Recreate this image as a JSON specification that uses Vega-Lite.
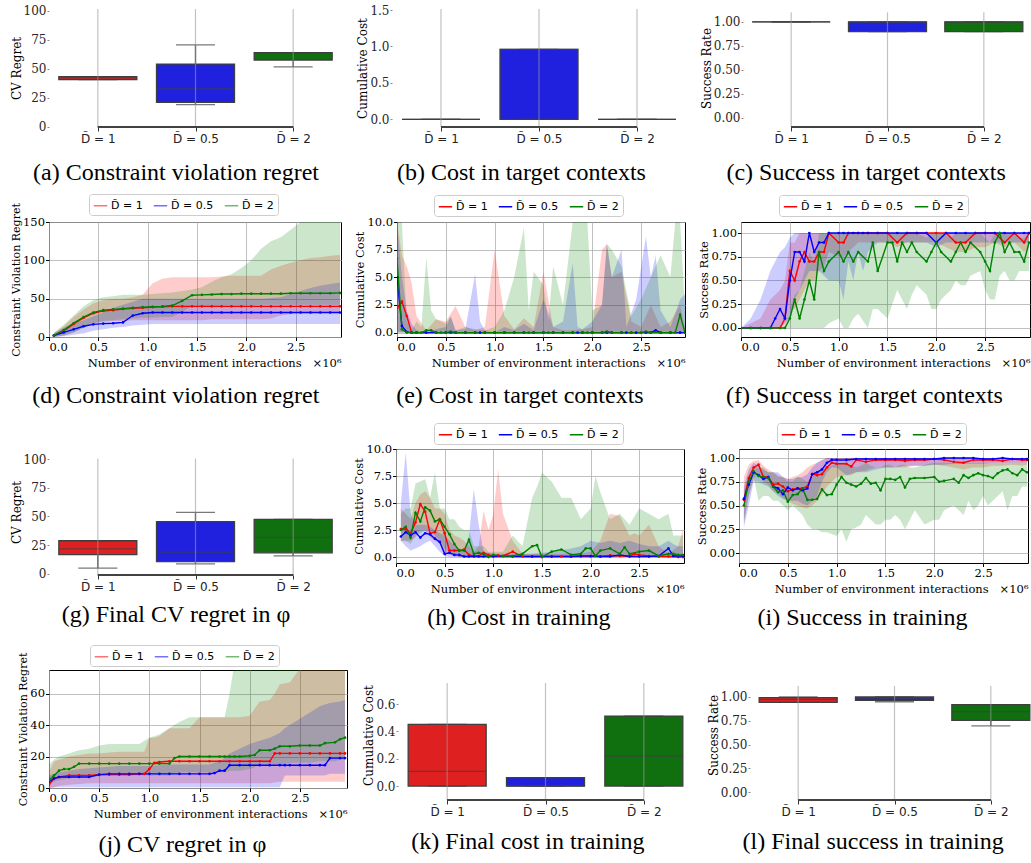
{
"$schema": "https://vega.github.io/schema/vega-lite/v6.json",
"padding": {"left": 10, "top": 4, "right": 0, "bottom": 0},
"config": {
 "view": {"stroke": null},
 "title": {"font": "Liberation Serif", "fontSize": 24, "fontWeight": "normal", "color": "#000", "frame": "bounds"},
 "axis": {"labelFont": "DejaVu Serif", "labelFontSize": 11.5, "labelColor": "#000", "titleFont": "DejaVu Serif", "titleFontSize": 11.5, "titleFontWeight": "normal", "titleColor": "#000", "tickColor": "#000", "tickSize": 3.5, "gridColor": "#b0b0b0", "gridWidth": 0.8, "domain": false, "labelPadding": 1, "titlePadding": 1, "labelOverlap": false},
 "legend": {"labelFont": "DejaVu Sans", "labelFontSize": 11, "labelColor": "#000", "symbolType": "stroke", "symbolSize": 180, "symbolStrokeWidth": 1.5, "strokeColor": "#cccccc", "cornerRadius": 3, "padding": 4, "columnPadding": 7, "fillColor": "#ffffff", "labelOffset": 3}
},
"datasets": {
 "a": [{"g":"1","q1":40.6,"q3":43.2,"med":42,"lo":40.6,"hi":43.2},{"g":"0.5","q1":21,"q3":54,"med":32.5,"lo":19,"hi":70.5},{"g":"2","q1":57.5,"q3":63.8,"med":63.8,"lo":51.5,"hi":63.8}],
 "b": [{"g":"1","q1":0,"q3":0,"med":0,"lo":0,"hi":0},{"g":"0.5","q1":0,"q3":0.96,"med":0.96,"lo":0,"hi":0.96},{"g":"2","q1":0,"q3":0,"med":0,"lo":0,"hi":0}],
 "c": [{"g":"1","q1":1,"q3":1,"med":1,"lo":1,"hi":1},{"g":"0.5","q1":0.9,"q3":1,"med":1,"lo":0.9,"hi":1},{"g":"2","q1":0.9,"q3":1,"med":1,"lo":0.9,"hi":1}],
 "g": [{"g":"1","q1":16.9,"q3":28.9,"med":21.9,"lo":5,"hi":28.9},{"g":"0.5","q1":10.8,"q3":45.5,"med":19,"lo":8.7,"hi":53.6},{"g":"2","q1":18.4,"q3":47.5,"med":31.8,"lo":15.7,"hi":47.5}],
 "k": [{"g":"1","q1":0,"q3":0.451,"med":0.108,"lo":0,"hi":0.451},{"g":"0.5","q1":0,"q3":0.061,"med":0,"lo":0,"hi":0.061},{"g":"2","q1":0,"q3":0.512,"med":0.22,"lo":0,"hi":0.512}],
 "l": [{"g":"1","q1":0.944,"q3":0.993,"med":0.975,"lo":0.944,"hi":1.0},{"g":"0.5","q1":0.965,"q3":1.0,"med":0.985,"lo":0.95,"hi":1.0},{"g":"2","q1":0.754,"q3":0.92,"med":0.846,"lo":0.695,"hi":0.92}],
 "d": [
{"s":"1","x":0.05,"m":2,"l":0,"h":5},{"s":"1","x":0.15,"m":8,"l":2,"h":14},{"s":"1","x":0.25,"m":17,"l":6,"h":26},{"s":"1","x":0.35,"m":25,"l":12,"h":36},{"s":"1","x":0.45,"m":31,"l":18,"h":44},{"s":"1","x":0.55,"m":34,"l":20,"h":48},{"s":"1","x":0.65,"m":35,"l":21,"h":50},{"s":"1","x":0.75,"m":36.5,"l":21,"h":50},{"s":"1","x":0.85,"m":37.5,"l":22,"h":52},{"s":"1","x":0.95,"m":38,"l":22,"h":55},{"s":"1","x":1.05,"m":39,"l":22,"h":70},{"s":"1","x":1.15,"m":39.5,"l":22,"h":76},{"s":"1","x":1.25,"m":40,"l":22,"h":78},{"s":"1","x":1.35,"m":40,"l":22,"h":78},{"s":"1","x":1.45,"m":40,"l":22,"h":78},{"s":"1","x":1.55,"m":40,"l":22,"h":78},{"s":"1","x":1.65,"m":40,"l":23,"h":78},{"s":"1","x":1.75,"m":40,"l":23,"h":79},{"s":"1","x":1.85,"m":40,"l":23,"h":80},{"s":"1","x":1.95,"m":40,"l":23,"h":80},{"s":"1","x":2.05,"m":40,"l":23,"h":80},{"s":"1","x":2.15,"m":40,"l":23,"h":80},{"s":"1","x":2.25,"m":40,"l":24,"h":88},{"s":"1","x":2.35,"m":40,"l":28,"h":93},{"s":"1","x":2.45,"m":40,"l":30,"h":97},{"s":"1","x":2.55,"m":40,"l":31,"h":100},{"s":"1","x":2.65,"m":40,"l":31,"h":103},{"s":"1","x":2.75,"m":40,"l":32,"h":104},{"s":"1","x":2.85,"m":40,"l":32,"h":106},{"s":"1","x":2.95,"m":40,"l":32,"h":107},
{"s":"0.5","x":0.05,"m":2,"l":0,"h":5},{"s":"0.5","x":0.15,"m":6,"l":1,"h":12},{"s":"0.5","x":0.25,"m":10,"l":3,"h":18},{"s":"0.5","x":0.35,"m":14,"l":5,"h":22},{"s":"0.5","x":0.45,"m":16.5,"l":8,"h":27},{"s":"0.5","x":0.55,"m":17.5,"l":10,"h":32},{"s":"0.5","x":0.65,"m":18,"l":12,"h":38},{"s":"0.5","x":0.75,"m":19,"l":13,"h":42},{"s":"0.5","x":0.85,"m":28,"l":15,"h":46},{"s":"0.5","x":0.95,"m":31,"l":16,"h":50},{"s":"0.5","x":1.05,"m":32,"l":17,"h":50},{"s":"0.5","x":1.15,"m":32,"l":17,"h":50},{"s":"0.5","x":1.25,"m":32,"l":17,"h":50},{"s":"0.5","x":1.35,"m":32,"l":17,"h":50},{"s":"0.5","x":1.45,"m":32,"l":17,"h":50},{"s":"0.5","x":1.55,"m":32,"l":17,"h":50},{"s":"0.5","x":1.65,"m":32,"l":17,"h":50},{"s":"0.5","x":1.75,"m":32,"l":17,"h":50},{"s":"0.5","x":1.85,"m":32,"l":17,"h":50},{"s":"0.5","x":1.95,"m":32,"l":17,"h":50},{"s":"0.5","x":2.05,"m":32,"l":17,"h":50},{"s":"0.5","x":2.15,"m":32,"l":17,"h":50},{"s":"0.5","x":2.25,"m":32,"l":17,"h":51},{"s":"0.5","x":2.35,"m":32,"l":17,"h":52},{"s":"0.5","x":2.45,"m":32,"l":17,"h":56},{"s":"0.5","x":2.55,"m":32,"l":17,"h":60},{"s":"0.5","x":2.65,"m":32,"l":17,"h":64},{"s":"0.5","x":2.75,"m":32,"l":17,"h":67},{"s":"0.5","x":2.85,"m":32,"l":17,"h":69},{"s":"0.5","x":2.95,"m":32,"l":17,"h":71},
{"s":"2","x":0.05,"m":2,"l":0,"h":6},{"s":"2","x":0.15,"m":9,"l":2,"h":16},{"s":"2","x":0.25,"m":18,"l":6,"h":28},{"s":"2","x":0.35,"m":26,"l":12,"h":40},{"s":"2","x":0.45,"m":32,"l":18,"h":48},{"s":"2","x":0.55,"m":35,"l":21,"h":52},{"s":"2","x":0.65,"m":36,"l":22,"h":53},{"s":"2","x":0.75,"m":37,"l":23,"h":55},{"s":"2","x":0.85,"m":38,"l":24,"h":55},{"s":"2","x":0.95,"m":39,"l":25,"h":55},{"s":"2","x":1.05,"m":39.5,"l":25,"h":56},{"s":"2","x":1.15,"m":40,"l":26,"h":57},{"s":"2","x":1.25,"m":41,"l":26,"h":58},{"s":"2","x":1.35,"m":47,"l":33,"h":60},{"s":"2","x":1.45,"m":54.5,"l":40,"h":62},{"s":"2","x":1.55,"m":55,"l":40,"h":65},{"s":"2","x":1.65,"m":55.5,"l":40,"h":72},{"s":"2","x":1.75,"m":56,"l":41,"h":78},{"s":"2","x":1.85,"m":56,"l":41,"h":82},{"s":"2","x":1.95,"m":56.5,"l":41,"h":90},{"s":"2","x":2.05,"m":56.5,"l":41,"h":100},{"s":"2","x":2.15,"m":56.5,"l":42,"h":115},{"s":"2","x":2.25,"m":56.5,"l":42,"h":125},{"s":"2","x":2.35,"m":56.5,"l":42,"h":130},{"s":"2","x":2.45,"m":57,"l":42,"h":140},{"s":"2","x":2.55,"m":57,"l":42,"h":150},{"s":"2","x":2.65,"m":57,"l":42,"h":150},{"s":"2","x":2.75,"m":57,"l":42,"h":150},{"s":"2","x":2.85,"m":57,"l":42,"h":150},{"s":"2","x":2.95,"m":57.5,"l":42,"h":150}
 ],
 "e": [
{"s":"1","x":0,"m":2.2,"l":0,"h":10},{"s":"1","x":0.05,"m":2.8,"l":0,"h":7},{"s":"1","x":0.1,"m":1.5,"l":0,"h":6},{"s":"1","x":0.15,"m":0,"l":0,"h":4.5},{"s":"1","x":0.2,"m":0,"l":0,"h":1.5},{"s":"1","x":0.3,"m":0,"l":0,"h":0.2},{"s":"1","x":0.4,"m":0,"l":0,"h":1.2},{"s":"1","x":0.5,"m":0,"l":0,"h":1},{"s":"1","x":0.6,"m":0,"l":0,"h":2.4},{"s":"1","x":0.7,"m":0,"l":0,"h":0.5},{"s":"1","x":0.8,"m":0,"l":0,"h":0.2},{"s":"1","x":0.9,"m":0,"l":0,"h":0.5},{"s":"1","x":1.0,"m":0,"l":0,"h":7.5},{"s":"1","x":1.1,"m":0,"l":0,"h":1.5},{"s":"1","x":1.2,"m":0,"l":0,"h":0.3},{"s":"1","x":1.3,"m":0,"l":0,"h":1.3},{"s":"1","x":1.4,"m":0,"l":0,"h":0.5},{"s":"1","x":1.5,"m":0,"l":0,"h":5.5},{"s":"1","x":1.6,"m":0,"l":0,"h":0.5},{"s":"1","x":1.7,"m":0,"l":0,"h":0.2},{"s":"1","x":1.8,"m":0,"l":0,"h":0.2},{"s":"1","x":1.9,"m":0,"l":0,"h":0.3},{"s":"1","x":2.0,"m":0,"l":0,"h":0.5},{"s":"1","x":2.1,"m":0,"l":0,"h":7.5},{"s":"1","x":2.15,"m":0,"l":0,"h":8},{"s":"1","x":2.2,"m":0,"l":0,"h":5},{"s":"1","x":2.3,"m":0,"l":0,"h":5.5},{"s":"1","x":2.4,"m":0,"l":0,"h":1},{"s":"1","x":2.5,"m":0,"l":0,"h":0.5},{"s":"1","x":2.6,"m":0,"l":0,"h":2.5},{"s":"1","x":2.7,"m":0,"l":0,"h":0.5},{"s":"1","x":2.8,"m":0,"l":0,"h":1},{"s":"1","x":2.9,"m":0,"l":0,"h":2.5},{"s":"1","x":2.95,"m":0,"l":0,"h":0.3},
{"s":"0.5","x":0,"m":5,"l":0,"h":10},{"s":"0.5","x":0.05,"m":0.6,"l":0,"h":5},{"s":"0.5","x":0.1,"m":0.05,"l":0,"h":2},{"s":"0.5","x":0.15,"m":0,"l":0,"h":0.8},{"s":"0.5","x":0.2,"m":0,"l":0,"h":0.2},{"s":"0.5","x":0.3,"m":0,"l":0,"h":0},{"s":"0.5","x":0.4,"m":0,"l":0,"h":0.3},{"s":"0.5","x":0.5,"m":0,"l":0,"h":0.5},{"s":"0.5","x":0.55,"m":0,"l":0,"h":1.4},{"s":"0.5","x":0.6,"m":0,"l":0,"h":0.2},{"s":"0.5","x":0.7,"m":0,"l":0,"h":0.3},{"s":"0.5","x":0.8,"m":0,"l":0,"h":5.3},{"s":"0.5","x":0.85,"m":0,"l":0,"h":1},{"s":"0.5","x":0.9,"m":0,"l":0,"h":0.2},{"s":"0.5","x":1.0,"m":0,"l":0,"h":0},{"s":"0.5","x":1.1,"m":0,"l":0,"h":0.5},{"s":"0.5","x":1.2,"m":0,"l":0,"h":0.2},{"s":"0.5","x":1.3,"m":0,"l":0,"h":0.8},{"s":"0.5","x":1.4,"m":0,"l":0,"h":0.2},{"s":"0.5","x":1.5,"m":0,"l":0,"h":3},{"s":"0.5","x":1.6,"m":0,"l":0,"h":0.5},{"s":"0.5","x":1.7,"m":0,"l":0,"h":1},{"s":"0.5","x":1.8,"m":0,"l":0,"h":6.3},{"s":"0.5","x":1.85,"m":0,"l":0,"h":0.5},{"s":"0.5","x":1.9,"m":0,"l":0,"h":0.3},{"s":"0.5","x":2.0,"m":0,"l":0,"h":1},{"s":"0.5","x":2.1,"m":0,"l":0,"h":2.5},{"s":"0.5","x":2.15,"m":0,"l":0,"h":8},{"s":"0.5","x":2.2,"m":0,"l":0,"h":5},{"s":"0.5","x":2.3,"m":0,"l":0,"h":7.5},{"s":"0.5","x":2.35,"m":0,"l":0,"h":0.5},{"s":"0.5","x":2.45,"m":0,"l":0,"h":3},{"s":"0.5","x":2.55,"m":0,"l":0,"h":8.7},{"s":"0.5","x":2.6,"m":0,"l":0,"h":5},{"s":"0.5","x":2.65,"m":0.2,"l":0,"h":7},{"s":"0.5","x":2.7,"m":0,"l":0,"h":2},{"s":"0.5","x":2.8,"m":0,"l":0,"h":0.5},{"s":"0.5","x":2.9,"m":0,"l":0,"h":3},{"s":"0.5","x":2.95,"m":0,"l":0,"h":3.5},
{"s":"2","x":0,"m":6.7,"l":0,"h":10},{"s":"2","x":0.05,"m":0.3,"l":0,"h":10},{"s":"2","x":0.1,"m":0,"l":0,"h":1},{"s":"2","x":0.15,"m":0,"l":0,"h":0.2},{"s":"2","x":0.2,"m":0,"l":0,"h":1},{"s":"2","x":0.25,"m":0,"l":0,"h":0.5},{"s":"2","x":0.3,"m":0.2,"l":0,"h":6.8},{"s":"2","x":0.35,"m":0.2,"l":0,"h":2},{"s":"2","x":0.4,"m":0,"l":0,"h":1.2},{"s":"2","x":0.45,"m":0,"l":0,"h":1},{"s":"2","x":0.5,"m":0,"l":0,"h":0.8},{"s":"2","x":0.55,"m":0.1,"l":0,"h":1.5},{"s":"2","x":0.6,"m":0,"l":0,"h":0.2},{"s":"2","x":0.7,"m":0,"l":0,"h":0.5},{"s":"2","x":0.8,"m":0,"l":0,"h":0.3},{"s":"2","x":0.9,"m":0,"l":0,"h":0.2},{"s":"2","x":1.0,"m":0,"l":0,"h":0.5},{"s":"2","x":1.1,"m":0,"l":0,"h":2},{"s":"2","x":1.2,"m":0,"l":0,"h":5},{"s":"2","x":1.3,"m":0,"l":0,"h":9.5},{"s":"2","x":1.35,"m":0,"l":0,"h":2},{"s":"2","x":1.4,"m":0,"l":0,"h":5.5},{"s":"2","x":1.5,"m":0,"l":0,"h":4.3},{"s":"2","x":1.55,"m":0,"l":0,"h":1},{"s":"2","x":1.6,"m":0,"l":0,"h":6},{"s":"2","x":1.7,"m":0,"l":0,"h":2.5},{"s":"2","x":1.8,"m":0,"l":0,"h":10},{"s":"2","x":1.9,"m":0,"l":0,"h":10},{"s":"2","x":1.95,"m":0,"l":0,"h":10},{"s":"2","x":2.0,"m":0,"l":0,"h":2},{"s":"2","x":2.1,"m":0,"l":0,"h":2.5},{"s":"2","x":2.15,"m":0.1,"l":0,"h":8},{"s":"2","x":2.2,"m":0,"l":0,"h":7.5},{"s":"2","x":2.3,"m":0,"l":0,"h":6},{"s":"2","x":2.4,"m":0,"l":0,"h":1.5},{"s":"2","x":2.5,"m":0,"l":0,"h":3},{"s":"2","x":2.55,"m":0.1,"l":0,"h":4},{"s":"2","x":2.6,"m":0,"l":0,"h":5},{"s":"2","x":2.7,"m":0,"l":0,"h":7},{"s":"2","x":2.8,"m":0,"l":0,"h":5},{"s":"2","x":2.85,"m":0,"l":0,"h":10},{"s":"2","x":2.9,"m":1.6,"l":0,"h":10},{"s":"2","x":2.95,"m":0,"l":0,"h":2}
 ],
 "f": [
{"s":"1","x":0,"m":0,"l":0,"h":0},{"s":"1","x":0.1,"m":0,"l":0,"h":0.05},{"s":"1","x":0.2,"m":0,"l":0,"h":0.1},{"s":"1","x":0.3,"m":0,"l":0,"h":0.3},{"s":"1","x":0.4,"m":0,"l":0,"h":0.4},{"s":"1","x":0.45,"m":0.1,"l":0,"h":0.5},{"s":"1","x":0.5,"m":0.6,"l":0.2,"h":0.9},{"s":"1","x":0.55,"m":0.5,"l":0.2,"h":0.9},{"s":"1","x":0.6,"m":0.7,"l":0.3,"h":1},{"s":"1","x":0.65,"m":0.8,"l":0.4,"h":1},{"s":"1","x":0.7,"m":0.7,"l":0.5,"h":1},{"s":"1","x":0.75,"m":0.7,"l":0.5,"h":1},{"s":"1","x":0.8,"m":0.8,"l":0.6,"h":1},{"s":"1","x":0.85,"m":0.8,"l":0.65,"h":1},{"s":"1","x":0.9,"m":1,"l":0.8,"h":1},{"s":"1","x":1.0,"m":0.9,"l":0.75,"h":1},{"s":"1","x":1.05,"m":0.9,"l":0.75,"h":1},{"s":"1","x":1.1,"m":1,"l":0.8,"h":1},{"s":"1","x":1.2,"m":1,"l":0.9,"h":1},{"s":"1","x":1.3,"m":1,"l":0.9,"h":1},{"s":"1","x":1.4,"m":1,"l":0.9,"h":1},{"s":"1","x":1.5,"m":1,"l":0.9,"h":1},{"s":"1","x":1.6,"m":0.9,"l":0.85,"h":1},{"s":"1","x":1.7,"m":1,"l":0.9,"h":1},{"s":"1","x":1.8,"m":1,"l":0.9,"h":1},{"s":"1","x":1.9,"m":1,"l":0.9,"h":1},{"s":"1","x":2.0,"m":1,"l":0.9,"h":1},{"s":"1","x":2.1,"m":1,"l":0.85,"h":1},{"s":"1","x":2.2,"m":0.9,"l":0.8,"h":1},{"s":"1","x":2.3,"m":0.9,"l":0.8,"h":1},{"s":"1","x":2.4,"m":1,"l":0.85,"h":1},{"s":"1","x":2.5,"m":1,"l":0.85,"h":1},{"s":"1","x":2.6,"m":1,"l":0.9,"h":1},{"s":"1","x":2.7,"m":0.9,"l":0.85,"h":1},{"s":"1","x":2.8,"m":1,"l":0.9,"h":1},{"s":"1","x":2.9,"m":0.9,"l":0.8,"h":1},{"s":"1","x":2.95,"m":1,"l":0.85,"h":1},
{"s":"0.5","x":0,"m":0,"l":0,"h":0},{"s":"0.5","x":0.1,"m":0,"l":0,"h":0.1},{"s":"0.5","x":0.2,"m":0,"l":0,"h":0.3},{"s":"0.5","x":0.3,"m":0,"l":0,"h":0.6},{"s":"0.5","x":0.35,"m":0.1,"l":0,"h":0.7},{"s":"0.5","x":0.4,"m":0.2,"l":0,"h":0.8},{"s":"0.5","x":0.45,"m":0.1,"l":0.05,"h":0.85},{"s":"0.5","x":0.5,"m":0.5,"l":0.1,"h":0.95},{"s":"0.5","x":0.55,"m":0.8,"l":0.3,"h":1},{"s":"0.5","x":0.6,"m":0.8,"l":0.4,"h":1},{"s":"0.5","x":0.65,"m":0.7,"l":0.5,"h":1},{"s":"0.5","x":0.7,"m":1,"l":0.6,"h":1},{"s":"0.5","x":0.75,"m":0.8,"l":0.6,"h":1},{"s":"0.5","x":0.8,"m":0.9,"l":0.6,"h":1},{"s":"0.5","x":0.85,"m":0.9,"l":0.55,"h":1},{"s":"0.5","x":0.9,"m":1,"l":0.5,"h":1},{"s":"0.5","x":1.0,"m":1,"l":0.5,"h":1},{"s":"0.5","x":1.05,"m":1,"l":0.3,"h":1},{"s":"0.5","x":1.1,"m":1,"l":0.7,"h":1},{"s":"0.5","x":1.15,"m":1,"l":0.5,"h":1},{"s":"0.5","x":1.2,"m":1,"l":0.8,"h":1},{"s":"0.5","x":1.25,"m":1,"l":0.6,"h":1},{"s":"0.5","x":1.3,"m":1,"l":0.8,"h":1},{"s":"0.5","x":1.4,"m":1,"l":0.9,"h":1},{"s":"0.5","x":1.5,"m":1,"l":0.9,"h":1},{"s":"0.5","x":1.6,"m":1,"l":0.9,"h":1},{"s":"0.5","x":1.7,"m":1,"l":0.9,"h":1},{"s":"0.5","x":1.8,"m":1,"l":0.9,"h":1},{"s":"0.5","x":1.9,"m":1,"l":0.9,"h":1},{"s":"0.5","x":2.0,"m":0.9,"l":0.85,"h":1},{"s":"0.5","x":2.1,"m":1,"l":0.9,"h":1},{"s":"0.5","x":2.2,"m":1,"l":0.9,"h":1},{"s":"0.5","x":2.3,"m":1,"l":0.9,"h":1},{"s":"0.5","x":2.4,"m":1,"l":0.9,"h":1},{"s":"0.5","x":2.5,"m":1,"l":0.9,"h":1},{"s":"0.5","x":2.6,"m":1,"l":0.9,"h":1},{"s":"0.5","x":2.7,"m":1,"l":0.9,"h":1},{"s":"0.5","x":2.8,"m":1,"l":0.9,"h":1},{"s":"0.5","x":2.9,"m":1,"l":0.9,"h":1},{"s":"0.5","x":2.95,"m":1,"l":0.9,"h":1},
{"s":"2","x":0,"m":0,"l":0,"h":0},{"s":"2","x":0.1,"m":0,"l":0,"h":0},{"s":"2","x":0.2,"m":0,"l":0,"h":0},{"s":"2","x":0.3,"m":0,"l":0,"h":0},{"s":"2","x":0.4,"m":0,"l":0,"h":0},{"s":"2","x":0.45,"m":0,"l":0,"h":0.02},{"s":"2","x":0.5,"m":0.1,"l":0,"h":0.2},{"s":"2","x":0.55,"m":0.3,"l":0,"h":0.35},{"s":"2","x":0.6,"m":0.1,"l":0,"h":0.4},{"s":"2","x":0.65,"m":0.3,"l":0,"h":0.6},{"s":"2","x":0.7,"m":0.5,"l":0,"h":0.8},{"s":"2","x":0.75,"m":0.3,"l":0,"h":0.7},{"s":"2","x":0.8,"m":0.8,"l":0,"h":1},{"s":"2","x":0.85,"m":0.6,"l":0,"h":1},{"s":"2","x":0.9,"m":0.7,"l":0.05,"h":1},{"s":"2","x":1.0,"m":0.8,"l":0.1,"h":1},{"s":"2","x":1.05,"m":0.7,"l":0,"h":1},{"s":"2","x":1.1,"m":0.8,"l":0,"h":1},{"s":"2","x":1.15,"m":0.7,"l":0.1,"h":1},{"s":"2","x":1.2,"m":0.8,"l":0.15,"h":1},{"s":"2","x":1.3,"m":0.7,"l":0,"h":1},{"s":"2","x":1.35,"m":0.9,"l":0.2,"h":1},{"s":"2","x":1.4,"m":0.6,"l":0.2,"h":1},{"s":"2","x":1.5,"m":0.9,"l":0.1,"h":1},{"s":"2","x":1.55,"m":0.9,"l":0.25,"h":1},{"s":"2","x":1.6,"m":0.7,"l":0.4,"h":1},{"s":"2","x":1.65,"m":0.9,"l":0.3,"h":1},{"s":"2","x":1.7,"m":0.8,"l":0.2,"h":1},{"s":"2","x":1.75,"m":0.9,"l":0.35,"h":1},{"s":"2","x":1.8,"m":0.8,"l":0.45,"h":1},{"s":"2","x":1.9,"m":0.7,"l":0.35,"h":0.95},{"s":"2","x":1.95,"m":0.8,"l":0.2,"h":1},{"s":"2","x":2.0,"m":0.9,"l":0.2,"h":1},{"s":"2","x":2.05,"m":0.8,"l":0.3,"h":1},{"s":"2","x":2.15,"m":0.7,"l":0.4,"h":0.95},{"s":"2","x":2.2,"m":0.8,"l":0.5,"h":1},{"s":"2","x":2.25,"m":0.9,"l":0.45,"h":1},{"s":"2","x":2.3,"m":0.8,"l":0.45,"h":1},{"s":"2","x":2.35,"m":0.9,"l":0.55,"h":1},{"s":"2","x":2.45,"m":0.8,"l":0.6,"h":1},{"s":"2","x":2.5,"m":0.7,"l":0.4,"h":0.95},{"s":"2","x":2.55,"m":0.6,"l":0.3,"h":0.9},{"s":"2","x":2.6,"m":0.9,"l":0.3,"h":1},{"s":"2","x":2.65,"m":1,"l":0.55,"h":1},{"s":"2","x":2.7,"m":0.8,"l":0.6,"h":1},{"s":"2","x":2.75,"m":0.9,"l":0.5,"h":1},{"s":"2","x":2.8,"m":0.8,"l":0.5,"h":1},{"s":"2","x":2.85,"m":0.8,"l":0.6,"h":0.95},{"s":"2","x":2.9,"m":0.7,"l":0.6,"h":0.95},{"s":"2","x":2.95,"m":0.9,"l":0.6,"h":1}
 ],
 "h": [
{"s":"1","x":0.05,"m":2.6,"l":1.5,"h":4.5},{"s":"1","x":0.1,"m":2.6,"l":1.5,"h":4},{"s":"1","x":0.15,"m":2.2,"l":1.5,"h":3.5},{"s":"1","x":0.2,"m":3.2,"l":1.8,"h":5},{"s":"1","x":0.25,"m":4.9,"l":2.5,"h":5.8},{"s":"1","x":0.3,"m":4.2,"l":2.5,"h":6.1},{"s":"1","x":0.35,"m":2.2,"l":1.8,"h":5.5},{"s":"1","x":0.4,"m":2.3,"l":1.5,"h":4.5},{"s":"1","x":0.45,"m":3.5,"l":1.2,"h":4.5},{"s":"1","x":0.5,"m":2.2,"l":0.5,"h":4},{"s":"1","x":0.55,"m":0.6,"l":0.2,"h":2.5},{"s":"1","x":0.6,"m":0.6,"l":0.1,"h":2},{"s":"1","x":0.65,"m":0.6,"l":0,"h":1.8},{"s":"1","x":0.7,"m":0.7,"l":0,"h":1.5},{"s":"1","x":0.75,"m":0.2,"l":0,"h":1},{"s":"1","x":0.8,"m":0.1,"l":0,"h":0.5},{"s":"1","x":0.85,"m":0.1,"l":0,"h":1},{"s":"1","x":0.9,"m":0.4,"l":0,"h":4.3},{"s":"1","x":0.95,"m":0.2,"l":0,"h":2.5},{"s":"1","x":1.0,"m":0.1,"l":0,"h":4},{"s":"1","x":1.05,"m":0.15,"l":0,"h":8.1},{"s":"1","x":1.1,"m":0.1,"l":0,"h":4},{"s":"1","x":1.2,"m":0.5,"l":0,"h":1.5},{"s":"1","x":1.3,"m":0.05,"l":0,"h":0.3},{"s":"1","x":1.4,"m":0.05,"l":0,"h":0.3},{"s":"1","x":1.5,"m":0.05,"l":0,"h":0.3},{"s":"1","x":1.6,"m":0.05,"l":0,"h":0.3},{"s":"1","x":1.7,"m":0.05,"l":0,"h":0.3},{"s":"1","x":1.8,"m":0.05,"l":0,"h":0.3},{"s":"1","x":1.9,"m":0.05,"l":0,"h":0.3},{"s":"1","x":2.0,"m":0.05,"l":0,"h":0.5},{"s":"1","x":2.1,"m":0.05,"l":0,"h":1.5},{"s":"1","x":2.2,"m":0.15,"l":0,"h":4},{"s":"1","x":2.3,"m":0.1,"l":0,"h":3.8},{"s":"1","x":2.4,"m":0.1,"l":0,"h":2},{"s":"1","x":2.45,"m":0.3,"l":0,"h":2.2},{"s":"1","x":2.5,"m":0.2,"l":0,"h":2},{"s":"1","x":2.6,"m":0.1,"l":0,"h":3},{"s":"1","x":2.7,"m":0.05,"l":0,"h":1},{"s":"1","x":2.8,"m":0.05,"l":0,"h":0.3},{"s":"1","x":2.9,"m":0,"l":0,"h":1},{"s":"1","x":2.95,"m":0,"l":0,"h":2.5},
{"s":"0.5","x":0.05,"m":1.9,"l":1.5,"h":5},{"s":"0.5","x":0.1,"m":2.3,"l":1,"h":9.7},{"s":"0.5","x":0.15,"m":2,"l":0.6,"h":4},{"s":"0.5","x":0.2,"m":2.3,"l":0.8,"h":3},{"s":"0.5","x":0.25,"m":1.8,"l":1,"h":3},{"s":"0.5","x":0.3,"m":2.2,"l":1.3,"h":3},{"s":"0.5","x":0.35,"m":2.1,"l":1.5,"h":2.8},{"s":"0.5","x":0.4,"m":1.7,"l":1,"h":2.5},{"s":"0.5","x":0.45,"m":1.4,"l":0.5,"h":2.2},{"s":"0.5","x":0.5,"m":0.3,"l":0.1,"h":2},{"s":"0.5","x":0.55,"m":0.4,"l":0,"h":1.5},{"s":"0.5","x":0.6,"m":0.2,"l":0,"h":1},{"s":"0.5","x":0.65,"m":0.2,"l":0,"h":0.8},{"s":"0.5","x":0.7,"m":0.05,"l":0,"h":0.5},{"s":"0.5","x":0.75,"m":0.05,"l":0,"h":2},{"s":"0.5","x":0.8,"m":0.05,"l":0,"h":6.3},{"s":"0.5","x":0.85,"m":0.05,"l":0,"h":3},{"s":"0.5","x":0.9,"m":0.05,"l":0,"h":0.5},{"s":"0.5","x":1.0,"m":0.05,"l":0,"h":0.3},{"s":"0.5","x":1.2,"m":0.05,"l":0,"h":0.3},{"s":"0.5","x":1.4,"m":0.05,"l":0,"h":0.3},{"s":"0.5","x":1.6,"m":0.05,"l":0,"h":0.5},{"s":"0.5","x":1.8,"m":0.05,"l":0,"h":0.8},{"s":"0.5","x":1.9,"m":0.1,"l":0,"h":1},{"s":"0.5","x":2.0,"m":0.1,"l":0,"h":1.5},{"s":"0.5","x":2.1,"m":0.05,"l":0,"h":1.3},{"s":"0.5","x":2.2,"m":0.05,"l":0,"h":1.5},{"s":"0.5","x":2.3,"m":0.2,"l":0,"h":1.3},{"s":"0.5","x":2.4,"m":0.05,"l":0,"h":1.5},{"s":"0.5","x":2.5,"m":0.05,"l":0,"h":1.2},{"s":"0.5","x":2.6,"m":0.05,"l":0,"h":1},{"s":"0.5","x":2.7,"m":0.1,"l":0,"h":1},{"s":"0.5","x":2.8,"m":0.8,"l":0,"h":1.5},{"s":"0.5","x":2.85,"m":0.1,"l":0,"h":1.2},{"s":"0.5","x":2.9,"m":0.1,"l":0,"h":1},{"s":"0.5","x":2.95,"m":0.1,"l":0,"h":1},
{"s":"2","x":0.05,"m":2.5,"l":1.5,"h":4},{"s":"2","x":0.1,"m":2.8,"l":1.5,"h":4.5},{"s":"2","x":0.15,"m":1.8,"l":1.2,"h":4.5},{"s":"2","x":0.2,"m":4.1,"l":2,"h":6.8},{"s":"2","x":0.25,"m":3.3,"l":2.2,"h":7},{"s":"2","x":0.3,"m":4.6,"l":2.5,"h":7.2},{"s":"2","x":0.35,"m":4.3,"l":2.5,"h":5.5},{"s":"2","x":0.4,"m":3.3,"l":2,"h":7.8},{"s":"2","x":0.45,"m":3.5,"l":1.5,"h":4.5},{"s":"2","x":0.5,"m":2.8,"l":0.8,"h":4.5},{"s":"2","x":0.55,"m":2.1,"l":0.5,"h":3.5},{"s":"2","x":0.6,"m":1.2,"l":0.2,"h":3.5},{"s":"2","x":0.65,"m":0.6,"l":0,"h":2.8},{"s":"2","x":0.7,"m":0.6,"l":0,"h":2.5},{"s":"2","x":0.75,"m":1.6,"l":0,"h":2.5},{"s":"2","x":0.8,"m":0.3,"l":0,"h":1},{"s":"2","x":0.85,"m":0.4,"l":0,"h":1},{"s":"2","x":0.9,"m":0.3,"l":0,"h":1},{"s":"2","x":0.95,"m":0,"l":0,"h":0.5},{"s":"2","x":1.0,"m":0.2,"l":0,"h":0.5},{"s":"2","x":1.1,"m":0.1,"l":0,"h":0.5},{"s":"2","x":1.2,"m":0.1,"l":0,"h":2},{"s":"2","x":1.3,"m":0.3,"l":0,"h":1},{"s":"2","x":1.4,"m":1,"l":0,"h":5.5},{"s":"2","x":1.45,"m":1.1,"l":0,"h":6.5},{"s":"2","x":1.5,"m":0,"l":0,"h":7.8},{"s":"2","x":1.6,"m":0.5,"l":0,"h":7},{"s":"2","x":1.7,"m":0.7,"l":0,"h":5.5},{"s":"2","x":1.8,"m":0.2,"l":0,"h":5.5},{"s":"2","x":1.9,"m":0.3,"l":0,"h":3.5},{"s":"2","x":1.95,"m":0.8,"l":0,"h":4},{"s":"2","x":2.0,"m":0.8,"l":0,"h":4.5},{"s":"2","x":2.05,"m":0.1,"l":0,"h":7.5},{"s":"2","x":2.1,"m":0.6,"l":0,"h":6},{"s":"2","x":2.2,"m":0.8,"l":0,"h":3.5},{"s":"2","x":2.3,"m":0.3,"l":0,"h":4},{"s":"2","x":2.35,"m":0.9,"l":0,"h":3.5},{"s":"2","x":2.4,"m":0.3,"l":0,"h":3},{"s":"2","x":2.5,"m":0.5,"l":0,"h":4.5},{"s":"2","x":2.6,"m":0.6,"l":0,"h":4},{"s":"2","x":2.7,"m":0.1,"l":0,"h":3.5},{"s":"2","x":2.8,"m":0.3,"l":0,"h":4},{"s":"2","x":2.85,"m":0.3,"l":0,"h":2},{"s":"2","x":2.9,"m":0.2,"l":0,"h":2},{"s":"2","x":2.95,"m":0.2,"l":0,"h":2}
 ],
 "i": [
{"s":"1","x":0.05,"m":0.56,"l":0.3,"h":0.8},{"s":"1","x":0.1,"m":0.79,"l":0.6,"h":0.93},{"s":"1","x":0.15,"m":0.9,"l":0.78,"h":0.97},{"s":"1","x":0.2,"m":0.93,"l":0.85,"h":0.98},{"s":"1","x":0.25,"m":0.8,"l":0.75,"h":0.92},{"s":"1","x":0.3,"m":0.8,"l":0.72,"h":0.88},{"s":"1","x":0.35,"m":0.72,"l":0.65,"h":0.85},{"s":"1","x":0.4,"m":0.73,"l":0.63,"h":0.82},{"s":"1","x":0.45,"m":0.7,"l":0.58,"h":0.8},{"s":"1","x":0.5,"m":0.65,"l":0.55,"h":0.78},{"s":"1","x":0.55,"m":0.67,"l":0.52,"h":0.8},{"s":"1","x":0.6,"m":0.68,"l":0.5,"h":0.82},{"s":"1","x":0.65,"m":0.68,"l":0.48,"h":0.85},{"s":"1","x":0.7,"m":0.7,"l":0.47,"h":0.9},{"s":"1","x":0.75,"m":0.83,"l":0.5,"h":0.93},{"s":"1","x":0.8,"m":0.82,"l":0.55,"h":0.95},{"s":"1","x":0.85,"m":0.83,"l":0.62,"h":0.98},{"s":"1","x":0.9,"m":0.9,"l":0.7,"h":1},{"s":"1","x":0.95,"m":0.95,"l":0.75,"h":1},{"s":"1","x":1.0,"m":0.94,"l":0.8,"h":1},{"s":"1","x":1.1,"m":0.94,"l":0.82,"h":1},{"s":"1","x":1.15,"m":0.91,"l":0.82,"h":1},{"s":"1","x":1.2,"m":0.98,"l":0.85,"h":1},{"s":"1","x":1.3,"m":0.96,"l":0.87,"h":1},{"s":"1","x":1.4,"m":0.98,"l":0.9,"h":1},{"s":"1","x":1.5,"m":0.98,"l":0.9,"h":1},{"s":"1","x":1.6,"m":0.98,"l":0.9,"h":1},{"s":"1","x":1.7,"m":0.97,"l":0.9,"h":1},{"s":"1","x":1.8,"m":0.98,"l":0.92,"h":1},{"s":"1","x":1.9,"m":0.98,"l":0.92,"h":1},{"s":"1","x":2.0,"m":0.99,"l":0.93,"h":1},{"s":"1","x":2.1,"m":0.98,"l":0.92,"h":1},{"s":"1","x":2.2,"m":0.96,"l":0.9,"h":1},{"s":"1","x":2.3,"m":0.95,"l":0.88,"h":1},{"s":"1","x":2.4,"m":0.98,"l":0.9,"h":1},{"s":"1","x":2.5,"m":0.98,"l":0.9,"h":1},{"s":"1","x":2.6,"m":0.98,"l":0.92,"h":1},{"s":"1","x":2.7,"m":0.97,"l":0.92,"h":1},{"s":"1","x":2.8,"m":0.99,"l":0.93,"h":1},{"s":"1","x":2.9,"m":0.98,"l":0.92,"h":1},{"s":"1","x":2.95,"m":0.98,"l":0.93,"h":1},
{"s":"0.5","x":0.05,"m":0.57,"l":0.27,"h":0.7},{"s":"0.5","x":0.1,"m":0.72,"l":0.5,"h":0.88},{"s":"0.5","x":0.15,"m":0.85,"l":0.75,"h":0.95},{"s":"0.5","x":0.2,"m":0.82,"l":0.75,"h":0.92},{"s":"0.5","x":0.25,"m":0.78,"l":0.72,"h":0.88},{"s":"0.5","x":0.3,"m":0.8,"l":0.7,"h":0.85},{"s":"0.5","x":0.35,"m":0.7,"l":0.65,"h":0.85},{"s":"0.5","x":0.4,"m":0.68,"l":0.6,"h":0.85},{"s":"0.5","x":0.45,"m":0.62,"l":0.57,"h":0.8},{"s":"0.5","x":0.5,"m":0.69,"l":0.55,"h":0.78},{"s":"0.5","x":0.55,"m":0.66,"l":0.55,"h":0.78},{"s":"0.5","x":0.6,"m":0.68,"l":0.55,"h":0.8},{"s":"0.5","x":0.65,"m":0.66,"l":0.52,"h":0.8},{"s":"0.5","x":0.7,"m":0.68,"l":0.5,"h":0.83},{"s":"0.5","x":0.75,"m":0.83,"l":0.55,"h":0.9},{"s":"0.5","x":0.8,"m":0.85,"l":0.6,"h":0.95},{"s":"0.5","x":0.85,"m":0.88,"l":0.75,"h":0.98},{"s":"0.5","x":0.9,"m":0.95,"l":0.85,"h":1},{"s":"0.5","x":0.95,"m":0.98,"l":0.9,"h":1},{"s":"0.5","x":1.0,"m":0.98,"l":0.9,"h":1},{"s":"0.5","x":1.1,"m":0.98,"l":0.82,"h":1},{"s":"0.5","x":1.2,"m":0.99,"l":0.85,"h":1},{"s":"0.5","x":1.3,"m":0.99,"l":0.85,"h":1},{"s":"0.5","x":1.4,"m":0.99,"l":0.88,"h":1},{"s":"0.5","x":1.5,"m":0.99,"l":0.9,"h":1},{"s":"0.5","x":1.6,"m":0.99,"l":0.9,"h":1},{"s":"0.5","x":1.7,"m":0.99,"l":0.92,"h":1},{"s":"0.5","x":1.8,"m":0.99,"l":0.92,"h":1},{"s":"0.5","x":1.9,"m":0.99,"l":0.92,"h":1},{"s":"0.5","x":2.0,"m":0.99,"l":0.93,"h":1},{"s":"0.5","x":2.1,"m":1,"l":0.93,"h":1},{"s":"0.5","x":2.2,"m":1,"l":0.94,"h":1},{"s":"0.5","x":2.3,"m":1,"l":0.94,"h":1},{"s":"0.5","x":2.4,"m":1,"l":0.94,"h":1},{"s":"0.5","x":2.5,"m":0.99,"l":0.94,"h":1},{"s":"0.5","x":2.6,"m":0.99,"l":0.95,"h":1},{"s":"0.5","x":2.7,"m":1,"l":0.95,"h":1},{"s":"0.5","x":2.8,"m":0.99,"l":0.95,"h":1},{"s":"0.5","x":2.9,"m":0.99,"l":0.95,"h":1},{"s":"0.5","x":2.95,"m":0.99,"l":0.95,"h":1},
{"s":"2","x":0.05,"m":0.5,"l":0.35,"h":0.65},{"s":"2","x":0.1,"m":0.75,"l":0.6,"h":0.82},{"s":"2","x":0.15,"m":0.86,"l":0.8,"h":0.9},{"s":"2","x":0.2,"m":0.81,"l":0.55,"h":0.9},{"s":"2","x":0.25,"m":0.8,"l":0.6,"h":0.9},{"s":"2","x":0.3,"m":0.79,"l":0.6,"h":0.85},{"s":"2","x":0.35,"m":0.7,"l":0.55,"h":0.85},{"s":"2","x":0.4,"m":0.64,"l":0.55,"h":0.8},{"s":"2","x":0.45,"m":0.66,"l":0.5,"h":0.8},{"s":"2","x":0.5,"m":0.54,"l":0.45,"h":0.75},{"s":"2","x":0.55,"m":0.61,"l":0.5,"h":0.75},{"s":"2","x":0.6,"m":0.62,"l":0.45,"h":0.8},{"s":"2","x":0.65,"m":0.68,"l":0.4,"h":0.78},{"s":"2","x":0.7,"m":0.56,"l":0.3,"h":0.75},{"s":"2","x":0.75,"m":0.56,"l":0.25,"h":0.8},{"s":"2","x":0.8,"m":0.57,"l":0.25,"h":0.85},{"s":"2","x":0.85,"m":0.67,"l":0.22,"h":0.88},{"s":"2","x":0.9,"m":0.61,"l":0.22,"h":0.9},{"s":"2","x":0.95,"m":0.62,"l":0.2,"h":0.92},{"s":"2","x":1.0,"m":0.72,"l":0.18,"h":0.95},{"s":"2","x":1.05,"m":0.8,"l":0.25,"h":0.95},{"s":"2","x":1.1,"m":0.74,"l":0.12,"h":0.95},{"s":"2","x":1.15,"m":0.72,"l":0.25,"h":0.92},{"s":"2","x":1.2,"m":0.7,"l":0.27,"h":0.9},{"s":"2","x":1.25,"m":0.73,"l":0.3,"h":0.92},{"s":"2","x":1.3,"m":0.79,"l":0.4,"h":0.95},{"s":"2","x":1.35,"m":0.73,"l":0.35,"h":0.92},{"s":"2","x":1.4,"m":0.74,"l":0.3,"h":0.9},{"s":"2","x":1.45,"m":0.66,"l":0.3,"h":0.9},{"s":"2","x":1.5,"m":0.78,"l":0.35,"h":0.93},{"s":"2","x":1.55,"m":0.78,"l":0.35,"h":0.93},{"s":"2","x":1.6,"m":0.77,"l":0.4,"h":0.9},{"s":"2","x":1.65,"m":0.8,"l":0.35,"h":0.93},{"s":"2","x":1.7,"m":0.69,"l":0.25,"h":0.93},{"s":"2","x":1.75,"m":0.78,"l":0.35,"h":0.9},{"s":"2","x":1.8,"m":0.79,"l":0.45,"h":0.9},{"s":"2","x":1.9,"m":0.79,"l":0.3,"h":0.93},{"s":"2","x":2.0,"m":0.8,"l":0.35,"h":0.95},{"s":"2","x":2.05,"m":0.75,"l":0.35,"h":0.95},{"s":"2","x":2.1,"m":0.76,"l":0.45,"h":0.95},{"s":"2","x":2.2,"m":0.78,"l":0.5,"h":0.95},{"s":"2","x":2.25,"m":0.74,"l":0.45,"h":0.95},{"s":"2","x":2.3,"m":0.82,"l":0.4,"h":0.95},{"s":"2","x":2.35,"m":0.79,"l":0.55,"h":0.95},{"s":"2","x":2.4,"m":0.82,"l":0.45,"h":0.95},{"s":"2","x":2.45,"m":0.84,"l":0.5,"h":0.95},{"s":"2","x":2.5,"m":0.82,"l":0.6,"h":0.95},{"s":"2","x":2.55,"m":0.81,"l":0.5,"h":0.95},{"s":"2","x":2.6,"m":0.79,"l":0.55,"h":0.95},{"s":"2","x":2.65,"m":0.84,"l":0.6,"h":0.95},{"s":"2","x":2.7,"m":0.87,"l":0.65,"h":0.95},{"s":"2","x":2.75,"m":0.88,"l":0.45,"h":0.95},{"s":"2","x":2.8,"m":0.84,"l":0.6,"h":0.95},{"s":"2","x":2.85,"m":0.82,"l":0.6,"h":0.95},{"s":"2","x":2.9,"m":0.88,"l":0.7,"h":0.95},{"s":"2","x":2.95,"m":0.85,"l":0.7,"h":0.95}
 ],
 "j": [
{"s":"1","x":0,"m":2,"l":0,"h":10},{"s":"1","x":0.05,"m":6,"l":0.5,"h":17},{"s":"1","x":0.1,"m":7,"l":1.5,"h":18},{"s":"1","x":0.2,"m":8,"l":2,"h":20},{"s":"1","x":0.3,"m":8,"l":2.5,"h":21},{"s":"1","x":0.4,"m":8,"l":3,"h":22},{"s":"1","x":0.5,"m":8.5,"l":3,"h":22},{"s":"1","x":0.6,"m":8.5,"l":3,"h":22.5},{"s":"1","x":0.7,"m":8.5,"l":3,"h":23},{"s":"1","x":0.8,"m":8.5,"l":3,"h":23},{"s":"1","x":0.9,"m":9,"l":3,"h":23},{"s":"1","x":0.95,"m":9,"l":3,"h":23},{"s":"1","x":1.0,"m":12,"l":3,"h":32},{"s":"1","x":1.05,"m":16,"l":3,"h":32},{"s":"1","x":1.1,"m":16.5,"l":3,"h":33},{"s":"1","x":1.2,"m":17,"l":3,"h":38},{"s":"1","x":1.3,"m":17,"l":3,"h":38},{"s":"1","x":1.4,"m":17,"l":3,"h":38},{"s":"1","x":1.5,"m":17,"l":3,"h":45},{"s":"1","x":1.6,"m":17,"l":3,"h":45},{"s":"1","x":1.7,"m":17,"l":3,"h":45},{"s":"1","x":1.8,"m":17,"l":3,"h":45},{"s":"1","x":1.9,"m":17,"l":3,"h":45},{"s":"1","x":2.0,"m":17,"l":3,"h":46},{"s":"1","x":2.1,"m":17,"l":3,"h":55},{"s":"1","x":2.2,"m":17,"l":3,"h":56},{"s":"1","x":2.25,"m":22,"l":3.5,"h":60},{"s":"1","x":2.3,"m":22,"l":4,"h":66},{"s":"1","x":2.4,"m":22,"l":4,"h":67},{"s":"1","x":2.5,"m":22,"l":4,"h":76},{"s":"1","x":2.6,"m":22,"l":4,"h":78},{"s":"1","x":2.7,"m":22,"l":4,"h":80},{"s":"1","x":2.8,"m":22,"l":4,"h":80},{"s":"1","x":2.9,"m":22,"l":4,"h":80},{"s":"1","x":2.95,"m":22,"l":4,"h":80},
{"s":"0.5","x":0,"m":4,"l":0,"h":8},{"s":"0.5","x":0.05,"m":6,"l":0.3,"h":9},{"s":"0.5","x":0.1,"m":7,"l":0.5,"h":10},{"s":"0.5","x":0.2,"m":7,"l":0.5,"h":11},{"s":"0.5","x":0.3,"m":7,"l":0.5,"h":12},{"s":"0.5","x":0.4,"m":7,"l":0.5,"h":12.5},{"s":"0.5","x":0.5,"m":8.5,"l":0.5,"h":13},{"s":"0.5","x":0.6,"m":9,"l":0.5,"h":13.5},{"s":"0.5","x":0.7,"m":9,"l":0.5,"h":14},{"s":"0.5","x":0.8,"m":9,"l":0.5,"h":14},{"s":"0.5","x":0.9,"m":9,"l":0.5,"h":14},{"s":"0.5","x":1.0,"m":9,"l":0.5,"h":14},{"s":"0.5","x":1.1,"m":9,"l":0.5,"h":14.5},{"s":"0.5","x":1.2,"m":9,"l":0.5,"h":15},{"s":"0.5","x":1.3,"m":9,"l":0.5,"h":15},{"s":"0.5","x":1.4,"m":9,"l":0.5,"h":15},{"s":"0.5","x":1.5,"m":9,"l":0.5,"h":15},{"s":"0.5","x":1.6,"m":9,"l":0.5,"h":15},{"s":"0.5","x":1.65,"m":9.5,"l":0.5,"h":16},{"s":"0.5","x":1.7,"m":11,"l":0.5,"h":17},{"s":"0.5","x":1.75,"m":11,"l":0.5,"h":19},{"s":"0.5","x":1.8,"m":14.5,"l":0.5,"h":22},{"s":"0.5","x":1.9,"m":14.5,"l":0.5,"h":25},{"s":"0.5","x":2.0,"m":14.5,"l":0.5,"h":28},{"s":"0.5","x":2.1,"m":14.5,"l":0.5,"h":30},{"s":"0.5","x":2.2,"m":14.5,"l":0.5,"h":32},{"s":"0.5","x":2.3,"m":14.5,"l":0.5,"h":35},{"s":"0.5","x":2.35,"m":14.5,"l":8,"h":38},{"s":"0.5","x":2.4,"m":14.5,"l":8,"h":40},{"s":"0.5","x":2.5,"m":14.5,"l":8,"h":44},{"s":"0.5","x":2.6,"m":14.5,"l":8,"h":48},{"s":"0.5","x":2.7,"m":14.5,"l":8,"h":52},{"s":"0.5","x":2.75,"m":14.5,"l":8,"h":53},{"s":"0.5","x":2.8,"m":19,"l":9,"h":54},{"s":"0.5","x":2.9,"m":19,"l":9,"h":55},{"s":"0.5","x":2.95,"m":19,"l":9,"h":56},
{"s":"2","x":0,"m":5,"l":3,"h":15},{"s":"2","x":0.05,"m":8,"l":4,"h":18},{"s":"2","x":0.1,"m":11,"l":5,"h":20},{"s":"2","x":0.15,"m":12,"l":5.5,"h":21},{"s":"2","x":0.2,"m":12,"l":6,"h":22},{"s":"2","x":0.25,"m":13.5,"l":6.5,"h":23},{"s":"2","x":0.3,"m":15.5,"l":7,"h":24},{"s":"2","x":0.4,"m":15.5,"l":7,"h":25},{"s":"2","x":0.5,"m":15.5,"l":7.5,"h":27},{"s":"2","x":0.6,"m":15.5,"l":8,"h":28},{"s":"2","x":0.7,"m":15.5,"l":8,"h":28},{"s":"2","x":0.8,"m":15.5,"l":8,"h":28},{"s":"2","x":0.9,"m":15.5,"l":8,"h":28},{"s":"2","x":1.0,"m":15.5,"l":8,"h":32},{"s":"2","x":1.1,"m":15.5,"l":8,"h":34},{"s":"2","x":1.2,"m":15.5,"l":8,"h":38},{"s":"2","x":1.25,"m":19,"l":9,"h":40},{"s":"2","x":1.3,"m":20,"l":10,"h":42},{"s":"2","x":1.4,"m":20,"l":10,"h":45},{"s":"2","x":1.5,"m":20,"l":10,"h":45},{"s":"2","x":1.6,"m":20,"l":10,"h":45},{"s":"2","x":1.7,"m":20,"l":10,"h":45},{"s":"2","x":1.75,"m":20,"l":10,"h":45},{"s":"2","x":1.8,"m":20,"l":11,"h":60},{"s":"2","x":1.85,"m":20,"l":11,"h":80},{"s":"2","x":1.9,"m":20,"l":11,"h":80},{"s":"2","x":2.0,"m":20.5,"l":12,"h":80},{"s":"2","x":2.05,"m":21,"l":13,"h":80},{"s":"2","x":2.1,"m":24,"l":15,"h":80},{"s":"2","x":2.2,"m":24,"l":15,"h":80},{"s":"2","x":2.25,"m":25,"l":15,"h":80},{"s":"2","x":2.3,"m":26.5,"l":15,"h":80},{"s":"2","x":2.4,"m":26.5,"l":16,"h":80},{"s":"2","x":2.5,"m":27,"l":16,"h":80},{"s":"2","x":2.6,"m":27,"l":16,"h":80},{"s":"2","x":2.7,"m":27,"l":17,"h":80},{"s":"2","x":2.75,"m":28.5,"l":17,"h":80},{"s":"2","x":2.85,"m":29,"l":17,"h":80},{"s":"2","x":2.9,"m":31,"l":18,"h":80},{"s":"2","x":2.95,"m":32,"l":18,"h":80}
 ]
},
"columns": 1,
"align": "none",
"spacing": 8,
"resolve": {"scale": {"color": "independent", "fill": "independent"}, "legend": {"color": "independent", "fill": "independent"}},
"concat": [
 {"spacing": 14, "resolve": {"scale": {"color": "independent", "fill": "independent"}, "legend": {"color": "independent", "fill": "independent"}}, "hconcat": [
  {"width": 293, "height": 118, "data": {"name": "a"},
   "title": {"text": "(a) Constraint violation regret", "orient": "bottom", "offset": 17},
   "encoding": {"x": {"field": "g", "type": "nominal", "sort": ["1","0.5","2"], "scale": {"type": "point", "padding": 0.5}, "axis": {"title": null, "labelExpr": "'D̃ = ' + datum.label", "labelFont": "DejaVu Sans", "labelFontSize": 12, "labelAngle": 0, "labelPadding": 2, "tickSize": 4, "tickColor": "#333", "grid": false, "labelColor": "#222"}}},
   "layer": [
    {"mark": {"type": "rule", "color": "#3f3f3f", "strokeWidth": 1.3}, "encoding": {"y": {"field": "lo", "type": "quantitative", "scale": {"domain": [-0.3, 101.5], "nice": false, "zero": false}, "axis": {"title": "CV Regret", "values": [0,25,50,75,100], "tickCount": 20, "format": "d", "grid": false, "titleFontSize": 12, "labelFontSize": 12, "labelColor": "#262626", "tickSize": 2, "tickColor": "#888", "titlePadding": 0}}, "y2": {"field": "hi"}}},
    {"mark": {"type": "bar", "width": 78, "stroke": "#3f3f3f", "strokeWidth": 1.3}, "encoding": {"y": {"field": "q1", "type": "quantitative"}, "y2": {"field": "q3"}, "fill": {"field": "g", "type": "nominal", "scale": {"domain": ["1","0.5","2"], "range": ["#df2020","#2020df","#107010"]}, "legend": null}}},
    {"mark": {"type": "tick", "orient": "horizontal", "size": 78, "thickness": 1.3, "color": "#3f3f3f"}, "encoding": {"y": {"field": "med", "type": "quantitative"}}},
    {"mark": {"type": "tick", "orient": "horizontal", "size": 39, "thickness": 1.3, "color": "#3f3f3f"}, "encoding": {"y": {"field": "lo", "type": "quantitative"}}},
    {"mark": {"type": "tick", "orient": "horizontal", "size": 39, "thickness": 1.3, "color": "#3f3f3f"}, "encoding": {"y": {"field": "hi", "type": "quantitative"}}},
    {"mark": {"type": "rule", "color": "#999999", "opacity": 0.6, "strokeWidth": 1.2}, "encoding": {"y": {"datum": 101.5}, "y2": {"datum": -0.3}}},
    {"mark": {"type": "rule", "color": "#3f3f3f", "strokeWidth": 1.3}, "encoding": {"x": {"datum": "1"}, "x2": {"datum": "2"}, "y": {"datum": -0.3}}}
   ]},
  {"width": 294, "height": 118, "data": {"name": "b"},
   "title": {"text": "(b) Cost in target contexts", "orient": "bottom", "offset": 17},
   "encoding": {"x": {"field": "g", "type": "nominal", "sort": ["1","0.5","2"], "scale": {"type": "point", "padding": 0.5}, "axis": {"title": null, "labelExpr": "'D̃ = ' + datum.label", "labelFont": "DejaVu Sans", "labelFontSize": 12, "labelAngle": 0, "labelPadding": 2, "tickSize": 4, "tickColor": "#333", "grid": false, "labelColor": "#222"}}},
   "layer": [
    {"mark": {"type": "rule", "color": "#3f3f3f", "strokeWidth": 1.3}, "encoding": {"y": {"field": "lo", "type": "quantitative", "scale": {"domain": [-0.106, 1.514], "nice": false, "zero": false}, "axis": {"title": "Cumulative Cost", "values": [0,0.5,1,1.5], "tickCount": 20, "format": ".1f", "grid": false, "titleFontSize": 12, "labelFontSize": 12, "labelColor": "#262626", "tickSize": 2, "tickColor": "#888", "titlePadding": 0}}, "y2": {"field": "hi"}}},
    {"mark": {"type": "bar", "width": 78, "stroke": "#3f3f3f", "strokeWidth": 1.3}, "encoding": {"y": {"field": "q1", "type": "quantitative"}, "y2": {"field": "q3"}, "fill": {"field": "g", "type": "nominal", "scale": {"domain": ["1","0.5","2"], "range": ["#df2020","#2020df","#107010"]}, "legend": null}}},
    {"mark": {"type": "tick", "orient": "horizontal", "size": 78, "thickness": 1.3, "color": "#3f3f3f"}, "encoding": {"y": {"field": "med", "type": "quantitative"}}},
    {"mark": {"type": "tick", "orient": "horizontal", "size": 39, "thickness": 1.3, "color": "#3f3f3f"}, "encoding": {"y": {"field": "lo", "type": "quantitative"}}},
    {"mark": {"type": "tick", "orient": "horizontal", "size": 39, "thickness": 1.3, "color": "#3f3f3f"}, "encoding": {"y": {"field": "hi", "type": "quantitative"}}},
    {"mark": {"type": "rule", "color": "#999999", "opacity": 0.6, "strokeWidth": 1.2}, "encoding": {"y": {"datum": 1.514}, "y2": {"datum": -0.106}}},
    {"mark": {"type": "rule", "color": "#3f3f3f", "strokeWidth": 1.3}, "encoding": {"x": {"datum": "1"}, "x2": {"datum": "2"}, "y": {"datum": -0.106}}}
   ]},
  {"width": 289, "height": 118, "data": {"name": "c"},
   "title": {"text": "(c) Success in target contexts", "orient": "bottom", "offset": 17},
   "encoding": {"x": {"field": "g", "type": "nominal", "sort": ["1","0.5","2"], "scale": {"type": "point", "padding": 0.5}, "axis": {"title": null, "labelExpr": "'D̃ = ' + datum.label", "labelFont": "DejaVu Sans", "labelFontSize": 12, "labelAngle": 0, "labelPadding": 2, "tickSize": 4, "tickColor": "#333", "grid": false, "labelColor": "#222"}}},
   "layer": [
    {"mark": {"type": "rule", "color": "#3f3f3f", "strokeWidth": 1.3}, "encoding": {"y": {"field": "lo", "type": "quantitative", "scale": {"domain": [-0.094, 1.135], "nice": false, "zero": false}, "axis": {"title": "Success Rate", "values": [0,0.25,0.5,0.75,1], "tickCount": 20, "format": ".2f", "grid": false, "titleFontSize": 12, "labelFontSize": 12, "labelColor": "#262626", "tickSize": 2, "tickColor": "#888", "titlePadding": 0}}, "y2": {"field": "hi"}}},
    {"mark": {"type": "bar", "width": 78, "stroke": "#3f3f3f", "strokeWidth": 1.3}, "encoding": {"y": {"field": "q1", "type": "quantitative"}, "y2": {"field": "q3"}, "fill": {"field": "g", "type": "nominal", "scale": {"domain": ["1","0.5","2"], "range": ["#df2020","#2020df","#107010"]}, "legend": null}}},
    {"mark": {"type": "tick", "orient": "horizontal", "size": 78, "thickness": 1.3, "color": "#3f3f3f"}, "encoding": {"y": {"field": "med", "type": "quantitative"}}},
    {"mark": {"type": "tick", "orient": "horizontal", "size": 39, "thickness": 1.3, "color": "#3f3f3f"}, "encoding": {"y": {"field": "lo", "type": "quantitative"}}},
    {"mark": {"type": "tick", "orient": "horizontal", "size": 39, "thickness": 1.3, "color": "#3f3f3f"}, "encoding": {"y": {"field": "hi", "type": "quantitative"}}},
    {"mark": {"type": "rule", "color": "#999999", "opacity": 0.6, "strokeWidth": 1.2}, "encoding": {"y": {"datum": 1.1}, "y2": {"datum": -0.094}}},
    {"mark": {"type": "rule", "color": "#3f3f3f", "strokeWidth": 1.3}, "encoding": {"x": {"datum": "1"}, "x2": {"datum": "2"}, "y": {"datum": -0.094}}}
   ]}
 ]},
 {"columns": 1, "align": "none", "spacing": 14, "resolve": {"scale": {"color": "independent", "fill": "independent"}, "legend": {"color": "independent", "fill": "independent"}}, "concat": [
 {"spacing": 12, "resolve": {"scale": {"color": "independent", "fill": "independent"}, "legend": {"color": "independent", "fill": "independent"}}, "hconcat": [
  {"width": 292, "height": 115, "data": {"name": "d"}, "view": {"stroke": "#000"},
   "title": {"text": "(d) Constraint violation regret", "orient": "bottom", "offset": 15},
   "encoding": {"x": {"field": "x", "type": "quantitative", "scale": {"domain": [0, 2.96], "nice": false, "zero": false}, "axis": {"title": "Number of environment interactions\u00a0\u00a0\u00a0×10⁶", "titleAnchor": "end", "titlePadding": 4, "values": [0,0.5,1,1.5,2,2.5], "tickCount": 20, "format": ".1f", "grid": true}}},
   "layer": [
    {"mark": {"type": "area", "opacity": 0.2, "clip": true}, "encoding": {"y": {"field": "l", "type": "quantitative", "scale": {"domain": [0, 150], "nice": false, "zero": false}, "axis": {"title": "Constraint Violation Regret", "titleFontSize": 11, "values": [0,50,100,150], "tickCount": 20, "format": "d", "grid": true}}, "y2": {"field": "h"}, "fill": {"field": "s", "type": "nominal", "scale": {"domain": ["2","0.5","1"], "range": ["#008000","#0000ff","#ff0000"]}, "legend": null}}},
    {"mark": {"type": "line", "strokeWidth": 1.4, "clip": true, "point": {"filled": true, "size": 7}}, "encoding": {"y": {"field": "m", "type": "quantitative"}, "color": {"field": "s", "type": "nominal", "scale": {"domain": ["1","0.5","2"], "range": ["#ff0000","#0000ff","#008000"]}, "legend": {"title": null, "orient": "none", "legendX": 40, "legendY": -28, "direction": "horizontal", "labelExpr": "'D̃ = ' + datum.label", "symbolOpacity": 0.55}}}}
   ]},
  {"width": 288, "height": 115, "data": {"name": "e"}, "view": {"stroke": "#000"},
   "title": {"text": "(e) Cost in target contexts", "orient": "bottom", "offset": 15},
   "encoding": {"x": {"field": "x", "type": "quantitative", "scale": {"domain": [0, 2.95], "nice": false, "zero": false}, "axis": {"title": "Number of environment interactions\u00a0\u00a0\u00a0×10⁶", "titleAnchor": "end", "titlePadding": 4, "values": [0,0.5,1,1.5,2,2.5], "tickCount": 20, "format": ".1f", "grid": true}}},
   "layer": [
    {"mark": {"type": "area", "opacity": 0.2, "clip": true}, "encoding": {"y": {"field": "l", "type": "quantitative", "scale": {"domain": [-0.4, 10], "nice": false, "zero": false}, "axis": {"title": "Cumulative Cost", "values": [0,2.5,5,7.5,10], "tickCount": 20, "format": ".1f", "grid": true}}, "y2": {"field": "h"}, "fill": {"field": "s", "type": "nominal", "scale": {"domain": ["2","0.5","1"], "range": ["#008000","#0000ff","#ff0000"]}, "legend": null}}},
    {"mark": {"type": "line", "strokeWidth": 1.4, "clip": true, "point": {"filled": true, "size": 7}}, "encoding": {"y": {"field": "m", "type": "quantitative"}, "color": {"field": "s", "type": "nominal", "scale": {"domain": ["1","0.5","2"], "range": ["#ff0000","#0000ff","#008000"]}, "legend": {"title": null, "orient": "none", "legendX": 37, "legendY": -27, "direction": "horizontal", "labelExpr": "'D̃ = ' + datum.label"}}}}
   ]},
  {"width": 289, "height": 115, "data": {"name": "f"}, "view": {"stroke": "#000"},
   "title": {"text": "(f) Success in target contexts", "orient": "bottom", "offset": 15},
   "encoding": {"x": {"field": "x", "type": "quantitative", "scale": {"domain": [0, 2.96], "nice": false, "zero": false}, "axis": {"title": "Number of environment interactions\u00a0\u00a0\u00a0×10⁶", "titleAnchor": "end", "titlePadding": 4, "values": [0,0.5,1,1.5,2,2.5], "tickCount": 20, "format": ".1f", "grid": true}}},
   "layer": [
    {"mark": {"type": "area", "opacity": 0.2, "clip": true}, "encoding": {"y": {"field": "l", "type": "quantitative", "scale": {"domain": [-0.095, 1.116], "nice": false, "zero": false}, "axis": {"title": "Success Rate", "values": [0,0.25,0.5,0.75,1], "tickCount": 20, "format": ".2f", "grid": true}}, "y2": {"field": "h"}, "fill": {"field": "s", "type": "nominal", "scale": {"domain": ["2","0.5","1"], "range": ["#008000","#0000ff","#ff0000"]}, "legend": null}}},
    {"mark": {"type": "line", "strokeWidth": 1.4, "clip": true, "point": {"filled": true, "size": 7}}, "encoding": {"y": {"field": "m", "type": "quantitative"}, "color": {"field": "s", "type": "nominal", "scale": {"domain": ["1","0.5","2"], "range": ["#ff0000","#0000ff","#008000"]}, "legend": {"title": null, "orient": "none", "legendX": 38, "legendY": -27, "direction": "horizontal", "labelExpr": "'D̃ = ' + datum.label"}}}}
   ]}
 ]},
 {"columns": 1, "align": "none", "spacing": 14, "resolve": {"scale": {"color": "independent", "fill": "independent"}, "legend": {"color": "independent", "fill": "independent"}}, "concat": [
 {"spacing": 11, "resolve": {"scale": {"color": "independent", "fill": "independent"}, "legend": {"color": "independent", "fill": "independent"}}, "hconcat": [
  {"width": 293, "height": 126, "data": {"name": "g"},
   "title": {"text": "(g) Final CV regret in φ", "orient": "bottom", "offset": 11},
   "encoding": {"x": {"field": "g", "type": "nominal", "sort": ["1","0.5","2"], "scale": {"type": "point", "padding": 0.5}, "axis": {"title": null, "labelExpr": "'D̃ = ' + datum.label", "labelFont": "DejaVu Sans", "labelFontSize": 12, "labelAngle": 0, "labelPadding": 2, "tickSize": 4, "tickColor": "#333", "grid": false, "labelColor": "#222"}}},
   "layer": [
    {"mark": {"type": "rule", "color": "#3f3f3f", "strokeWidth": 1.3}, "encoding": {"y": {"field": "lo", "type": "quantitative", "scale": {"domain": [-0.9, 108.7], "nice": false, "zero": false}, "axis": {"title": "CV Regret", "values": [0,25,50,75,100], "tickCount": 20, "format": "d", "grid": false, "titleFontSize": 12, "labelFontSize": 12, "labelColor": "#262626", "tickSize": 2, "tickColor": "#888", "titlePadding": 0}}, "y2": {"field": "hi"}}},
    {"mark": {"type": "bar", "width": 78, "stroke": "#3f3f3f", "strokeWidth": 1.3}, "encoding": {"y": {"field": "q1", "type": "quantitative"}, "y2": {"field": "q3"}, "fill": {"field": "g", "type": "nominal", "scale": {"domain": ["1","0.5","2"], "range": ["#df2020","#2020df","#107010"]}, "legend": null}}},
    {"mark": {"type": "tick", "orient": "horizontal", "size": 78, "thickness": 1.3, "color": "#3f3f3f"}, "encoding": {"y": {"field": "med", "type": "quantitative"}}},
    {"mark": {"type": "tick", "orient": "horizontal", "size": 39, "thickness": 1.3, "color": "#3f3f3f"}, "encoding": {"y": {"field": "lo", "type": "quantitative"}}},
    {"mark": {"type": "tick", "orient": "horizontal", "size": 39, "thickness": 1.3, "color": "#3f3f3f"}, "encoding": {"y": {"field": "hi", "type": "quantitative"}}},
    {"mark": {"type": "rule", "color": "#999999", "opacity": 0.6, "strokeWidth": 1.2}, "encoding": {"y": {"datum": 100.5}, "y2": {"datum": -0.9}}},
    {"mark": {"type": "rule", "color": "#3f3f3f", "strokeWidth": 1.3}, "encoding": {"x": {"datum": "1"}, "x2": {"datum": "2"}, "y": {"datum": -0.9}}}
   ]},
  {"width": 288, "height": 114, "data": {"name": "h"}, "view": {"stroke": "#000"},
   "title": {"text": "(h) Cost in training", "orient": "bottom", "offset": 11},
   "encoding": {"x": {"field": "x", "type": "quantitative", "scale": {"domain": [0, 2.96], "nice": false, "zero": false}, "axis": {"title": "Number of environment interactions\u00a0\u00a0\u00a0×10⁶", "titleAnchor": "end", "titlePadding": 4, "values": [0,0.5,1,1.5,2,2.5], "tickCount": 20, "format": ".1f", "grid": true}}},
   "layer": [
    {"mark": {"type": "area", "opacity": 0.2, "clip": true}, "encoding": {"y": {"field": "l", "type": "quantitative", "scale": {"domain": [-0.55, 10], "nice": false, "zero": false}, "axis": {"title": "Cumulative Cost", "values": [0,2.5,5,7.5,10], "tickCount": 20, "format": ".1f", "grid": true}}, "y2": {"field": "h"}, "fill": {"field": "s", "type": "nominal", "scale": {"domain": ["2","0.5","1"], "range": ["#008000","#0000ff","#ff0000"]}, "legend": null}}},
    {"mark": {"type": "line", "strokeWidth": 1.4, "clip": true, "point": {"filled": true, "size": 7}}, "encoding": {"y": {"field": "m", "type": "quantitative"}, "color": {"field": "s", "type": "nominal", "scale": {"domain": ["1","0.5","2"], "range": ["#ff0000","#0000ff","#008000"]}, "legend": {"title": null, "orient": "none", "legendX": 38, "legendY": -26, "direction": "horizontal", "labelExpr": "'D̃ = ' + datum.label"}}}}
   ]},
  {"width": 289, "height": 114, "data": {"name": "i"}, "view": {"stroke": "#000"},
   "title": {"text": "(i) Success in training", "orient": "bottom", "offset": 11},
   "encoding": {"x": {"field": "x", "type": "quantitative", "scale": {"domain": [0, 2.96], "nice": false, "zero": false}, "axis": {"title": "Number of environment interactions\u00a0\u00a0\u00a0×10⁶", "titleAnchor": "end", "titlePadding": 4, "values": [0,0.5,1,1.5,2,2.5], "tickCount": 20, "format": ".1f", "grid": true}}},
   "layer": [
    {"mark": {"type": "area", "opacity": 0.2, "clip": true}, "encoding": {"y": {"field": "l", "type": "quantitative", "scale": {"domain": [-0.105, 1.095], "nice": false, "zero": false}, "axis": {"title": "Success Rate", "values": [0,0.25,0.5,0.75,1], "tickCount": 20, "format": ".2f", "grid": true}}, "y2": {"field": "h"}, "fill": {"field": "s", "type": "nominal", "scale": {"domain": ["2","0.5","1"], "range": ["#008000","#0000ff","#ff0000"]}, "legend": null}}},
    {"mark": {"type": "line", "strokeWidth": 1.4, "clip": true, "point": {"filled": true, "size": 7}}, "encoding": {"y": {"field": "m", "type": "quantitative"}, "color": {"field": "s", "type": "nominal", "scale": {"domain": ["1","0.5","2"], "range": ["#ff0000","#0000ff","#008000"]}, "legend": {"title": null, "orient": "none", "legendX": 38, "legendY": -26, "direction": "horizontal", "labelExpr": "'D̃ = ' + datum.label"}}}}
   ]}
 ]},
 {"spacing": 14, "resolve": {"scale": {"color": "independent", "fill": "independent"}, "legend": {"color": "independent", "fill": "independent"}}, "hconcat": [
  {"width": 298, "height": 118, "data": {"name": "j"}, "view": {"stroke": "#000"},
   "title": {"text": "(j) CV regret in φ", "orient": "bottom", "offset": 13},
   "encoding": {"x": {"field": "x", "type": "quantitative", "scale": {"domain": [0, 2.97], "nice": false, "zero": false}, "axis": {"title": "Number of environment interactions\u00a0\u00a0\u00a0×10⁶", "titleAnchor": "end", "titlePadding": 4, "values": [0,0.5,1,1.5,2,2.5], "tickCount": 20, "format": ".1f", "grid": true}}},
   "layer": [
    {"mark": {"type": "area", "opacity": 0.2, "clip": true}, "encoding": {"y": {"field": "l", "type": "quantitative", "scale": {"domain": [0, 75], "nice": false, "zero": false}, "axis": {"title": "Constraint Violation Regret", "titleFontSize": 11, "values": [0,20,40,60], "tickCount": 20, "format": "d", "grid": true}}, "y2": {"field": "h"}, "fill": {"field": "s", "type": "nominal", "scale": {"domain": ["2","0.5","1"], "range": ["#008000","#0000ff","#ff0000"]}, "legend": null}}},
    {"mark": {"type": "line", "strokeWidth": 1.4, "clip": true, "point": {"filled": true, "size": 7}}, "encoding": {"y": {"field": "m", "type": "quantitative"}, "color": {"field": "s", "type": "nominal", "scale": {"domain": ["1","0.5","2"], "range": ["#ff0000","#0000ff","#008000"]}, "legend": {"title": null, "orient": "none", "legendX": 41, "legendY": -25, "direction": "horizontal", "labelExpr": "'D̃ = ' + datum.label", "symbolOpacity": 0.55}}}}
   ]},
  {"width": 295, "height": 130, "data": {"name": "k"},
   "title": {"text": "(k) Final cost in training", "orient": "bottom", "offset": 13},
   "encoding": {"x": {"field": "g", "type": "nominal", "sort": ["1","0.5","2"], "scale": {"type": "point", "padding": 0.5}, "axis": {"title": null, "labelExpr": "'D̃ = ' + datum.label", "labelFont": "DejaVu Sans", "labelFontSize": 12, "labelAngle": 0, "labelPadding": 2, "tickSize": 4, "tickColor": "#333", "grid": false, "labelColor": "#222"}}},
   "layer": [
    {"mark": {"type": "rule", "color": "#3f3f3f", "strokeWidth": 1.3}, "encoding": {"y": {"field": "lo", "type": "quantitative", "scale": {"domain": [-0.102, 0.849], "nice": false, "zero": false}, "axis": {"title": "Cumulative Cost", "values": [0,0.2,0.4,0.6], "tickCount": 20, "format": ".1f", "grid": false, "titleFontSize": 12, "labelFontSize": 12, "labelColor": "#262626", "tickSize": 2, "tickColor": "#888", "titlePadding": 0}}, "y2": {"field": "hi"}}},
    {"mark": {"type": "bar", "width": 78, "stroke": "#3f3f3f", "strokeWidth": 1.3}, "encoding": {"y": {"field": "q1", "type": "quantitative"}, "y2": {"field": "q3"}, "fill": {"field": "g", "type": "nominal", "scale": {"domain": ["1","0.5","2"], "range": ["#df2020","#2020df","#107010"]}, "legend": null}}},
    {"mark": {"type": "tick", "orient": "horizontal", "size": 78, "thickness": 1.3, "color": "#3f3f3f"}, "encoding": {"y": {"field": "med", "type": "quantitative"}}},
    {"mark": {"type": "tick", "orient": "horizontal", "size": 39, "thickness": 1.3, "color": "#3f3f3f"}, "encoding": {"y": {"field": "lo", "type": "quantitative"}}},
    {"mark": {"type": "tick", "orient": "horizontal", "size": 39, "thickness": 1.3, "color": "#3f3f3f"}, "encoding": {"y": {"field": "hi", "type": "quantitative"}}},
    {"mark": {"type": "rule", "color": "#999999", "opacity": 0.6, "strokeWidth": 1.2}, "encoding": {"y": {"datum": 0.754}, "y2": {"datum": -0.102}}},
    {"mark": {"type": "rule", "color": "#3f3f3f", "strokeWidth": 1.3}, "encoding": {"x": {"datum": "1"}, "x2": {"datum": "2"}, "y": {"datum": -0.102}}}
   ]},
  {"width": 289, "height": 130, "data": {"name": "l"},
   "title": {"text": "(l) Final success in training", "orient": "bottom", "offset": 13},
   "encoding": {"x": {"field": "g", "type": "nominal", "sort": ["1","0.5","2"], "scale": {"type": "point", "padding": 0.5}, "axis": {"title": null, "labelExpr": "'D̃ = ' + datum.label", "labelFont": "DejaVu Sans", "labelFontSize": 12, "labelAngle": 0, "labelPadding": 2, "tickSize": 4, "tickColor": "#333", "grid": false, "labelColor": "#222"}}},
   "layer": [
    {"mark": {"type": "rule", "color": "#3f3f3f", "strokeWidth": 1.3}, "encoding": {"y": {"field": "lo", "type": "quantitative", "scale": {"domain": [-0.084, 1.284], "nice": false, "zero": false}, "axis": {"title": "Success Rate", "values": [0,0.25,0.5,0.75,1], "tickCount": 20, "format": ".2f", "grid": false, "titleFontSize": 12, "labelFontSize": 12, "labelColor": "#262626", "tickSize": 2, "tickColor": "#888", "titlePadding": 0}}, "y2": {"field": "hi"}}},
    {"mark": {"type": "bar", "width": 78, "stroke": "#3f3f3f", "strokeWidth": 1.3}, "encoding": {"y": {"field": "q1", "type": "quantitative"}, "y2": {"field": "q3"}, "fill": {"field": "g", "type": "nominal", "scale": {"domain": ["1","0.5","2"], "range": ["#df2020","#2020df","#107010"]}, "legend": null}}},
    {"mark": {"type": "tick", "orient": "horizontal", "size": 78, "thickness": 1.3, "color": "#3f3f3f"}, "encoding": {"y": {"field": "med", "type": "quantitative"}}},
    {"mark": {"type": "tick", "orient": "horizontal", "size": 39, "thickness": 1.3, "color": "#3f3f3f"}, "encoding": {"y": {"field": "lo", "type": "quantitative"}}},
    {"mark": {"type": "tick", "orient": "horizontal", "size": 39, "thickness": 1.3, "color": "#3f3f3f"}, "encoding": {"y": {"field": "hi", "type": "quantitative"}}},
    {"mark": {"type": "rule", "color": "#999999", "opacity": 0.6, "strokeWidth": 1.2}, "encoding": {"y": {"datum": 1.116}, "y2": {"datum": -0.084}}},
    {"mark": {"type": "rule", "color": "#3f3f3f", "strokeWidth": 1.3}, "encoding": {"x": {"datum": "1"}, "x2": {"datum": "2"}, "y": {"datum": -0.084}}}
   ]}
 ]}
 ]}
 ]}
]
}
